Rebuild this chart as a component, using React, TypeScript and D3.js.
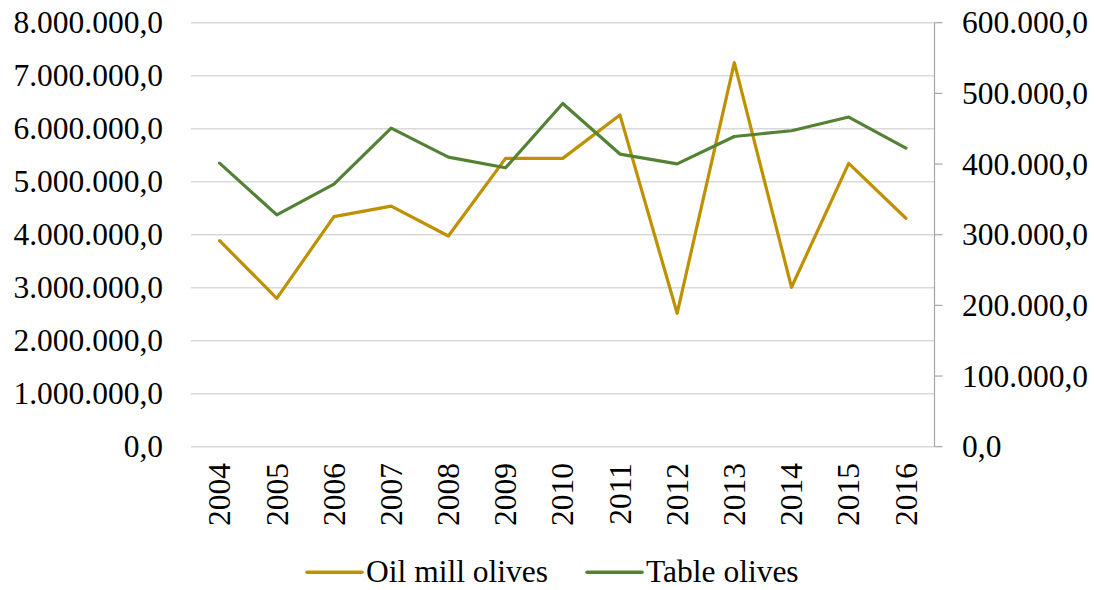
import React, { useEffect, useRef } from 'react';
import * as d3 from 'd3';

const years = ['2004', '2005', '2006', '2007', '2008', '2009', '2010', '2011', '2012', '2013', '2014', '2015', '2016'];
const oilMill = [3887000, 2800000, 4340000, 4540000, 3975000, 5440000, 5440000, 6260000, 2517000, 7245000, 3008000, 5347000, 4310000];
const tableOlives = [401300, 328100, 371600, 450900, 409800, 394700, 485700, 414100, 400300, 439000, 447100, 466500, 422600];
const leftTicks = [0, 1000000, 2000000, 3000000, 4000000, 5000000, 6000000, 7000000, 8000000];
const rightTicks = [0, 100000, 200000, 300000, 400000, 500000, 600000];

const GOLD = '#bf9000';
const GREEN = '#548235';
const FONT = '"Liberation Serif", "Times New Roman", serif';
const FS = 31.5;

const fmt = (v: number) => {
  const s = Math.round(v).toString().replace(/\B(?=(\d{3})+(?!\d))/g, '.');
  return s + ',0';
};

const App = () => {
  const ref = useRef<SVGSVGElement>(null);

  useEffect(() => {
    const svg = d3.select(ref.current);
    svg.selectAll('*').remove();

    const left = 191, right = 934.5, top = 22.7, bottom = 446.7;

    const x = d3.scaleBand().domain(years).range([left, right]);
    const yL = d3.scaleLinear().domain([0, 8000000]).range([bottom, top]);
    const yR = d3.scaleLinear().domain([0, 600000]).range([bottom, top]);
    const cx = (d: string) => (x(d) as number) + x.bandwidth() / 2;

    // gridlines
    svg.append('g')
      .selectAll('line')
      .data(leftTicks.slice(1))
      .enter()
      .append('line')
      .attr('x1', left).attr('x2', right)
      .attr('y1', d => yL(d)).attr('y2', d => yL(d))
      .attr('stroke', '#d9d9d9')
      .attr('stroke-width', 1.5);

    // x axis line
    svg.append('line')
      .attr('x1', left).attr('x2', right)
      .attr('y1', bottom).attr('y2', bottom)
      .attr('stroke', '#d9d9d9')
      .attr('stroke-width', 1.5);

    // right axis
    svg.append('line')
      .attr('x1', right).attr('x2', right)
      .attr('y1', top).attr('y2', bottom)
      .attr('stroke', '#a6a6a6')
      .attr('stroke-width', 1.2);
    svg.append('g')
      .selectAll('line')
      .data(rightTicks)
      .enter()
      .append('line')
      .attr('x1', right).attr('x2', right + 8)
      .attr('y1', d => yR(d)).attr('y2', d => yR(d))
      .attr('stroke', '#a6a6a6')
      .attr('stroke-width', 1.2);

    // left labels
    svg.append('g')
      .selectAll('text')
      .data(leftTicks)
      .enter()
      .append('text')
      .attr('x', 163)
      .attr('y', d => yL(d))
      .attr('dy', '0.34em')
      .attr('text-anchor', 'end')
      .attr('font-family', FONT)
      .attr('font-size', FS)
      .attr('fill', '#000')
      .text(d => fmt(d));

    // right labels
    svg.append('g')
      .selectAll('text')
      .data(rightTicks)
      .enter()
      .append('text')
      .attr('x', 962)
      .attr('y', d => yR(d))
      .attr('dy', '0.34em')
      .attr('text-anchor', 'start')
      .attr('font-family', FONT)
      .attr('font-size', FS)
      .attr('fill', '#000')
      .text(d => fmt(d));

    // year labels
    svg.append('g')
      .selectAll('text')
      .data(years)
      .enter()
      .append('text')
      .attr('transform', d => `translate(${cx(d)},463) rotate(-90)`)
      .attr('dy', '0.34em')
      .attr('text-anchor', 'end')
      .attr('font-family', FONT)
      .attr('font-size', FS)
      .attr('fill', '#000')
      .text(d => d);

    const lineL = d3.line<number>().x((_, i) => cx(years[i])).y(d => yL(d));
    const lineR = d3.line<number>().x((_, i) => cx(years[i])).y(d => yR(d));

    svg.append('path')
      .datum(oilMill)
      .attr('fill', 'none')
      .attr('stroke', GOLD)
      .attr('stroke-width', 3.2)
      .attr('stroke-linejoin', 'round')
      .attr('stroke-linecap', 'round')
      .attr('d', lineL);

    svg.append('path')
      .datum(tableOlives)
      .attr('fill', 'none')
      .attr('stroke', GREEN)
      .attr('stroke-width', 3.2)
      .attr('stroke-linejoin', 'round')
      .attr('stroke-linecap', 'round')
      .attr('d', lineR);

    // legend
    const legend = [
      { name: 'Oil mill olives', color: GOLD, x: 307 },
      { name: 'Table olives', color: GREEN, x: 587 },
    ];
    const lg = svg.append('g')
      .selectAll('g')
      .data(legend)
      .enter()
      .append('g')
      .attr('transform', d => `translate(${d.x},572.3)`);
    lg.append('line')
      .attr('x1', 0).attr('x2', 55)
      .attr('y1', 0).attr('y2', 0)
      .attr('stroke', d => d.color)
      .attr('stroke-width', 3.5)
      .attr('stroke-linecap', 'round');
    lg.append('text')
      .attr('x', 59)
      .attr('y', 9.5)
      .attr('font-family', FONT)
      .attr('font-size', FS)
      .attr('fill', '#000')
      .text(d => d.name);
  }, []);

  return (
    <svg
      ref={ref}
      width={1096}
      height={590}
      style={{ position: 'absolute', left: 0, top: 0, background: '#fff' }}
    />
  );
};

export default App;
